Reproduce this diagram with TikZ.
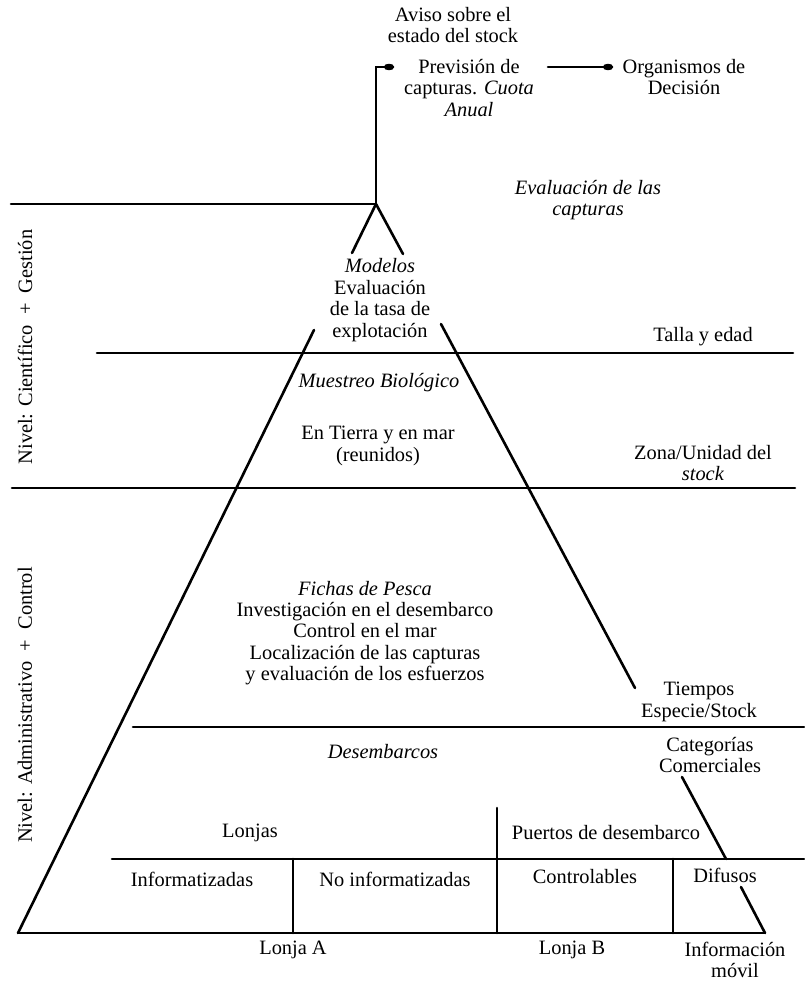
\documentclass[tikz,border=0pt]{standalone}
\usepackage{fontspec}
\setmainfont{Liberation Serif}
\usetikzlibrary{arrows.meta}
\begin{document}
\begin{tikzpicture}[x=0.5pt,y=-0.5pt,
  rule/.style={line width=1.3pt, line cap=round},
  lbl/.style={inner sep=0pt, align=center, font=\fontsize{10.2}{10.7}\selectfont},
  ital/.style={lbl, font=\fontsize{10.2}{10.7}\selectfont\itshape},
  feed/.style={rule, -{Ellipse[length=5pt,width=3.2pt]}}]
\useasboundingbox (0,0) rectangle (804,990);

% pyramid corners and the points where its sides break around the labels
\coordinate (apex) at (376,204);
\coordinate (bl) at (18,933);
\coordinate (br) at (765,933);
\coordinate (l1) at (352,253);
\coordinate (l2) at (314,330);
\coordinate (r1) at (403,254);
\coordinate (r2) at (441,324);
\coordinate (r3) at (635,688);
\coordinate (r4) at (682,777);
\coordinate (r5) at (726,859);
\coordinate (r6) at (741,887);

% sides of the pyramid
\draw[rule] (apex) -- (l1);
\draw[rule] (l2) -- (bl);
\draw[rule] (apex) -- (r1);
\draw[rule] (r2) -- (r3);
\draw[rule] (r4) -- (r5);
\draw[rule] (r6) -- (br);

% level separators
\draw[rule] (11,204) -- (apex);
\draw[rule] (97,353) -- (793,353);
\draw[rule] (12,488) -- (795,488);
\draw[rule] (133,727) -- (804,727);
\draw[rule] (112,859) -- (804,859);
\draw[rule] (bl) -- (br);
\draw[rule] (293,859) -- (293,933);
\draw[rule] (497,808) -- (497,933);
\draw[rule] (673,859) -- (673,933);

% labels at the top
\node[lbl] (aviso) at (453,25) {Aviso sobre el\\estado del stock};
\node[lbl] (prev) at (469,88) {Previsión de\\capturas. \textit{Cuota}\\\textit{Anual}};
\node[lbl] (org) at (684,77) {Organismos de\\Decisión};
\coordinate (prevIn) at (394,67);
\coordinate (prevOut) at (548,67);
\coordinate (orgIn) at (613,67);
\draw[feed] (apex) |- (prevIn);
\draw[feed] (prevOut) -- (orgIn);

\node[ital] (evalc) at (588,200) {Evaluación de las\\capturas};

% scientific level
\node[lbl] (model) at (380,300) {\textit{Modelos}\\Evaluación\\de la tasa de\\explotación};
\node[lbl] (talla) at (703,337) {Talla y edad};
\node[ital] (muest) at (379,383) {Muestreo Biológico};
\node[lbl] (tierra) at (378,446) {En Tierra y en mar\\(reunidos)};
\node[lbl] (zona) at (703,463) {Zona/Unidad del\\\textit{stock}};

% level names along the left edge
\node[lbl, rotate=90] (nivel1) at (25,347) {Nivel: Científico \ + \ Gestión};
\node[lbl, rotate=90] (nivel2) at (25,705) {Nivel: Administrativo \ + \ Control};

% administrative level
\node[lbl] (fichas) at (365,633) {\textit{Fichas de Pesca}\\Investigación en el desembarco\\Control en el mar\\Localización de las capturas\\y evaluación de los esfuerzos};
\node[lbl] (tiempos) at (699,702) {Tiempos\\Especie/Stock};
\node[lbl] (categ) at (710,755) {Categorías\\Comerciales};
\node[ital] (desemb) at (383,752) {Desembarcos};
\node[lbl] (lonjas) at (250,833) {Lonjas};
\node[lbl] (puertos) at (606,833) {Puertos de desembarco};
\node[lbl] (inform) at (192,879) {Informatizadas};
\node[lbl] (noinform) at (395,879) {No informatizadas};
\node[lbl] (contr) at (585,877) {Controlables};
\node[lbl] (difusos) at (725,875) {Difusos};

% base labels
\node[lbl] (lonjaA) at (293,950) {Lonja A};
\node[lbl] (lonjaB) at (572,950) {Lonja B};
\node[lbl] (infomov) at (735,960) {Información\\móvil};
\end{tikzpicture}
\end{document}
